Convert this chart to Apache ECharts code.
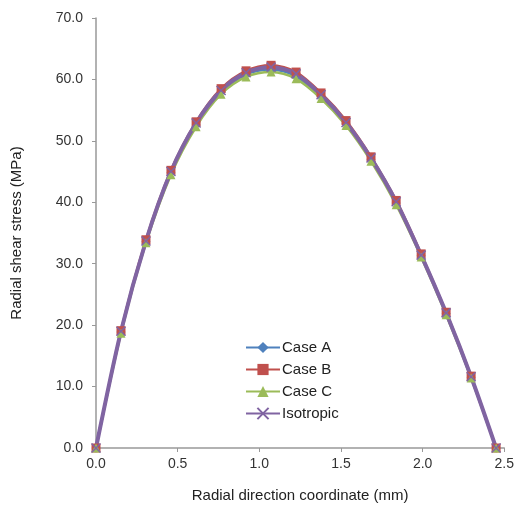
<!DOCTYPE html>
<html lang="en">
<head>
    <meta charset="UTF-8">
    <title>Radial shear stress</title>
    <style>
        html, body { margin: 0; padding: 0; background: #fff; }
        #main { width: 517px; height: 513px; }
    </style>
</head>
<body>
<div id="main"></div>
<script src="https://cdn.jsdelivr.net/npm/echarts@6/dist/echarts.min.js"></script>
<script>
  // radial coordinate (mm)
  var xCoord = [0, 0.153, 0.306, 0.459, 0.613, 0.766, 0.919, 1.072, 1.225, 1.378, 1.531, 1.684, 1.838, 1.991, 2.144, 2.297, 2.45];
  // shear stress (MPa)
  var caseA = [0, 18.9, 33.6, 44.8, 52.6, 57.9, 60.8, 61.6, 60.5, 57.2, 52.8, 47.0, 39.9, 31.3, 21.9, 11.5, 0];
  var caseB = [0, 19.1, 33.9, 45.2, 53.1, 58.5, 61.4, 62.3, 61.2, 57.8, 53.3, 47.4, 40.3, 31.6, 22.1, 11.7, 0];
  var caseC = [0, 18.7, 33.4, 44.5, 52.3, 57.6, 60.4, 61.2, 60.1, 56.9, 52.5, 46.7, 39.6, 31.1, 21.7, 11.4, 0];
  var isotropic = [0, 19.0, 33.7, 45.0, 52.9, 58.2, 61.1, 62.0, 60.9, 57.5, 53.0, 47.2, 40.1, 31.4, 22.0, 11.6, 0];
  var names = ['Case A', 'Case B', 'Case C', 'Isotropic'];

  function pairs(ys) {
    return ys.map(function (y, i) { return [xCoord[i], y]; });
  }

  var font = 'Liberation Sans, Arial, sans-serif';
  var myChart = echarts.init(document.getElementById('main'));

  var option = {
    animation: false,
    textStyle: { fontFamily: font },
    grid: { left: 96, right: 10, top: 18, bottom: 65 },
    legend: {
      orient: 'vertical',
      left: 240,
      top: 335,
      itemGap: 7,
      itemWidth: 34,
      itemHeight: 14,
      textStyle: { fontSize: 15, color: '#222', fontFamily: font, padding: [0, 0, 0, -3] },
      data: names
    },
    xAxis: {
      type: 'value',
      min: 0, max: 2.5, interval: 0.5,
      name: 'Radial direction coordinate (mm)',
      nameLocation: 'middle',
      nameGap: 40,
      nameTextStyle: { fontSize: 15, color: '#222' },
      axisLine: { lineStyle: { color: '#999', width: 1.5 } },
      axisTick: { lineStyle: { color: '#999' }, length: 4 },
      axisLabel: { fontSize: 14, color: '#333', margin: 9, formatter: function (v) { return v.toFixed(1); } },
      splitLine: { show: false }
    },
    yAxis: {
      type: 'value',
      min: 0, max: 70, interval: 10,
      name: 'Radial shear stress (MPa)',
      nameLocation: 'middle',
      nameGap: 72,
      nameTextStyle: { fontSize: 15, color: '#222' },
      axisLine: { show: true, lineStyle: { color: '#999', width: 1.5 } },
      axisTick: { show: true, lineStyle: { color: '#999' }, length: 4 },
      axisLabel: { fontSize: 14, color: '#333', margin: 13, formatter: function (v) { return v.toFixed(1); } },
      splitLine: { show: false }
    },
    series: [
      {
        name: 'Case A', type: 'line', data: pairs(caseA), smooth: 0.3,
        symbol: 'diamond', symbolSize: 9,
        lineStyle: { color: '#4F81BD', width: 2.5 },
        itemStyle: { color: '#4F81BD' }
      },
      {
        name: 'Case B', type: 'line', data: pairs(caseB), smooth: 0.3,
        symbol: 'rect', symbolSize: 9,
        lineStyle: { color: '#C0504D', width: 2.5 },
        itemStyle: { color: '#C0504D' }
      },
      {
        name: 'Case C', type: 'line', data: pairs(caseC), smooth: 0.3,
        symbol: 'triangle', symbolSize: 9,
        lineStyle: { color: '#9BBB59', width: 2.5 },
        itemStyle: { color: '#9BBB59' }
      },
      {
        name: 'Isotropic', type: 'line', data: pairs(isotropic), smooth: 0.3,
        symbol: 'path://M0,0L10,10M10,0L0,10', symbolSize: 9,
        lineStyle: { color: '#8064A2', width: 4 },
        itemStyle: { color: '#8064A2', borderColor: '#8064A2', borderWidth: 1.5 }
      }
    ]
  };
  myChart.setOption(option);
</script>
</body>
</html>
